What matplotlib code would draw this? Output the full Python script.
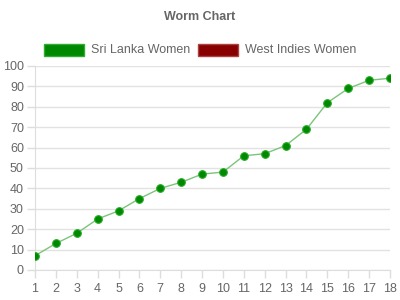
import matplotlib
matplotlib.use("Agg")
import matplotlib.pyplot as plt
from matplotlib.patches import Rectangle

plt.rcParams["font.family"] = ["Liberation Sans", "DejaVu Sans"]

overs = list(range(1, 19))
sri_lanka = [7, 13, 18, 25, 29, 35, 40, 43, 47, 48, 56, 57, 61, 69, 82, 89, 93, 94]
series_names = ["Sri Lanka Women", "West Indies Women"]
series_colors = ["#008800", "#880000"]
series_edges = ["#33aa33", "#aa4444"]
y_ticks = list(range(0, 101, 10))

W, H = 400, 300
fig = plt.figure(figsize=(4, 3), dpi=100)
ax = fig.add_axes([35 / W, 30 / H, 355 / W, 204 / H])

ax.plot(overs, sri_lanka, color="#7cc47c", lw=1, zorder=2)
ax.scatter(overs, sri_lanka, s=30, color="#008800", edgecolors="#22aa22", linewidths=0.8, zorder=3)

ax.set_xlim(1, 18)
ax.set_ylim(0, 100)
ax.set_xticks(overs)
ax.set_yticks(y_ticks)
ax.tick_params(axis="both", colors="#dddddd", labelcolor="#666666", labelsize=9, length=6, width=1)
ax.tick_params(axis="x", pad=3)
ax.tick_params(axis="y", pad=2)
ax.grid(axis="y", color="#e2e2e2", lw=1)
ax.set_axisbelow(True)
for s in ["top", "right"]:
    ax.spines[s].set_visible(False)
ax.spines["left"].set_color("#dddddd")
ax.spines["bottom"].set_color("#dddddd")

fig.text(200 / W, 1 - 17 / H, "Worm Chart", ha="center", va="center", fontsize=9,
         fontweight="bold", color="#666666")

# legend
x0 = [44, 198]
for i, name in enumerate(series_names):
    fig.patches.append(Rectangle((x0[i] / W, 1 - 56 / H), 40 / W, 12 / H, transform=fig.transFigure,
                                 facecolor=series_colors[i], edgecolor=series_edges[i], lw=1))
    fig.text((x0[i] + 47) / W, 1 - 50 / H, name, ha="left", va="center", fontsize=9, color="#666666")

fig.savefig("out.png", dpi=100)
